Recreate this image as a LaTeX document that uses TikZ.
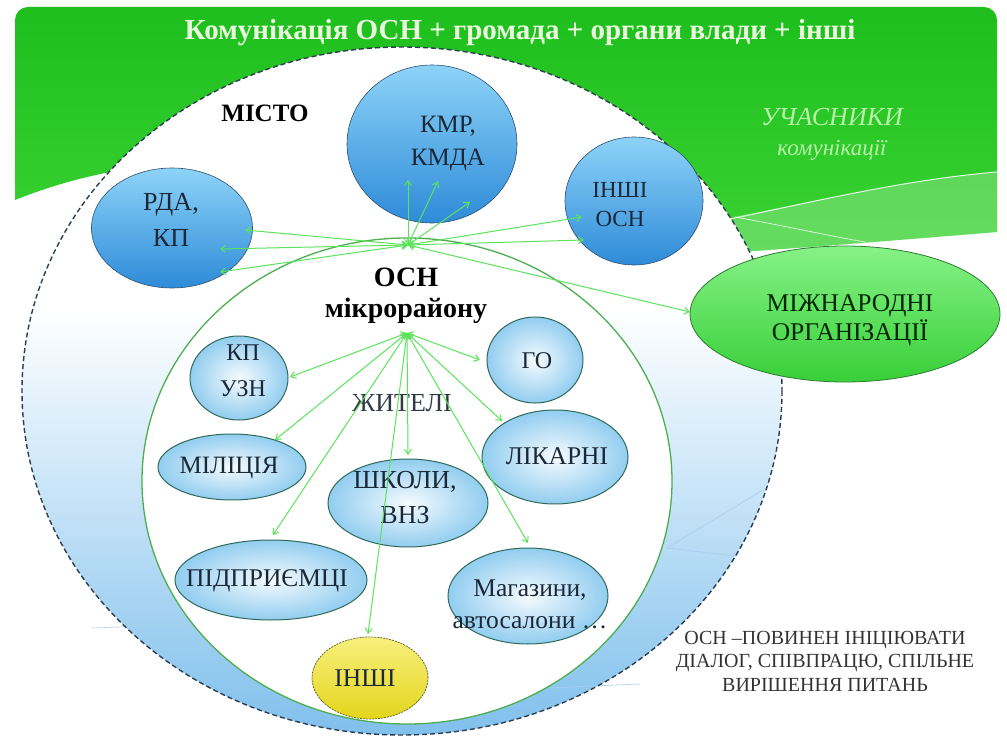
\documentclass[tikz,border=0pt]{standalone}
\usepackage{fontspec}
\setmainfont{Liberation Serif}
\usetikzlibrary{shapes.geometric, arrows.meta}

\definecolor{gtop}{HTML}{1DBE1D}
\definecolor{gbot}{HTML}{42D93A}
\definecolor{ringB}{HTML}{80C0EC}
\definecolor{ringM}{HTML}{D6EBFA}
\definecolor{btop}{HTML}{8DD3F8}
\definecolor{bbot}{HTML}{2E8BD8}
\definecolor{bbord}{HTML}{30506E}
\definecolor{sin}{HTML}{F5FBFE}
\definecolor{sout}{HTML}{92CDF0}
\definecolor{sbord}{HTML}{2F6A5A}
\definecolor{itop}{HTML}{86F286}
\definecolor{ibot}{HTML}{38CF38}
\definecolor{gbord}{HTML}{2E7D32}
\definecolor{ytop}{HTML}{F7F07E}
\definecolor{ybot}{HTML}{E4D51C}
\definecolor{ybord}{HTML}{6B6B2A}
\definecolor{txtc}{HTML}{1B2838}
\definecolor{lg}{HTML}{5BE35B}
\definecolor{innerg}{HTML}{4DAE50}
\definecolor{titlec}{HTML}{EAF9DD}
\definecolor{ucol}{HTML}{B9F2AA}
\definecolor{dashc}{HTML}{2C3E50}
\definecolor{ringl}{HTML}{A6D0EE}

\pgfdeclareverticalshading{ringshade}{100bp}{color(0bp)=(ringB); color(25bp)=(ringB); color(46bp)=(ringM); color(56bp)=(white); color(100bp)=(white)}

\begin{document}
\begin{tikzpicture}[x=1pt,y=-1pt,
  bigblue/.style={ellipse, draw=bbord, line width=0.6pt, top color=btop, bottom color=bbot, inner sep=0pt},
  smallblue/.style={ellipse, draw=sbord, line width=1pt, inner color=sin, outer color=sout, inner sep=0pt},
  greenell/.style={ellipse, draw=gbord, line width=0.8pt, top color=itop, bottom color=ibot, inner sep=0pt},
  yellowell/.style={ellipse, draw=ybord, line width=0.8pt, dash pattern=on 2pt off 1pt, top color=ytop, bottom color=ybot, inner sep=0pt},
  lab/.style={align=center, text=txtc, inner sep=0pt},
  link/.style={draw=lg, line width=1pt, >={Straight Barb[length=5pt,width=7pt]}, <->},
  ringline/.style={draw=ringl, line width=0.6pt}
]
\useasboundingbox (0,0) rectangle (1007,738);
\fill[white] (0,0) rectangle (1007,738);

% green background
\shade[top color=gtop, bottom color=gbot] (15,120) [rounded corners=13pt] -- (15,7) -- (997,7) -- (997,120) [sharp corners] -- (997,232)
  .. controls (900,240) and (800,248) .. (740,252) -- (400,320) -- (110,172)
  .. controls (70,180) and (40,190) .. (15,200) -- cycle;
\fill[white, opacity=0.22] (733,217) .. controls (820,200) and (920,178) .. (997,172) -- (997,232)
  .. controls (900,240) and (800,248) .. (740,252) -- cycle;
\draw[white, line width=1pt, opacity=0.85] (720,221) .. controls (800,205) and (900,180) .. (997,172);
\draw[white, line width=0.8pt, opacity=0.75] (735,217) .. controls (780,225) and (830,236) .. (865,242);

% big city ellipse
\shade[shading=ringshade] (402,391) ellipse [x radius=380, y radius=344];
\draw[ringline] (667,548) -- (763,490);
\draw[ringline] (667,548) -- (735,556);
\draw[ringline] (92,628) -- (196,624);
\draw[ringline] (548,688) -- (640,684);
\draw[dashc, line width=1.4pt, dash pattern=on 5pt off 3pt] (402,391) ellipse [x radius=380, y radius=344];

% inner micro-district ellipse
\filldraw[fill=white, draw=innerg, line width=1.3pt] (407,481) ellipse [x radius=265, y radius=243];

% title and side texts
\node[text=titlec, font=\fontsize{29}{32}\selectfont\bfseries] (title) at (520,33) {Комунікація ОСН + громада + органи влади + інші};
\node[text=ucol, font=\fontsize{26}{30}\selectfont\itshape] (uch) at (832,117) {УЧАСНИКИ};
\node[text=ucol, font=\fontsize{23}{28}\selectfont\itshape] (kom) at (832,150) {комунікації};
\node[text=black, font=\fontsize{25}{30}\selectfont\bfseries] (misto) at (265,113) {МІСТО};

% outer participants
\node[bigblue, minimum width=170, minimum height=158] (kmr) at (432,144) {};
\node[lab, font=\fontsize{25}{33}\selectfont] (kmrt) at (448,143) {КМР,\\КМДА};
\node[bigblue, minimum width=161, minimum height=120] (rda) at (172,228) {};
\node[lab, font=\fontsize{26}{36}\selectfont] (rdat) at (171,220) {РДА,\\КП};
\node[bigblue, minimum width=138, minimum height=128] (insh) at (634,201) {};
\node[lab, font=\fontsize{23}{29}\selectfont] (insht) at (620,205) {ІНШІ\\ОСН};
\node[greenell, minimum width=310, minimum height=136] (intl) at (845,314) {};
\node[lab, text=black!85!green, font=\fontsize{25.5}{29}\selectfont] (intlt) at (850,320) {МІЖНАРОДНІ\\ОРГАНІЗАЦІЇ};

% micro-district participants
\node[smallblue, minimum width=98, minimum height=84] (kpuzn) at (239,378) {};
\node[lab, font=\fontsize{24}{36}\selectfont] (kpuznt) at (243,371) {КП\\УЗН};
\node[smallblue, minimum width=96, minimum height=86] (go) at (535,360) {};
\node[lab, font=\fontsize{24}{28}\selectfont] (got) at (537,361) {ГО};
\node[smallblue, minimum width=148, minimum height=66] (mil) at (232,467) {};
\node[lab, font=\fontsize{25}{28}\selectfont] (milt) at (229,468) {МІЛІЦІЯ};
\node[smallblue, minimum width=160, minimum height=88] (shk) at (408,503) {};
\node[lab, font=\fontsize{26}{35}\selectfont] (shkt) at (405,498) {ШКОЛИ,\\ВНЗ};
\node[smallblue, minimum width=146, minimum height=94] (lik) at (555,457) {};
\node[lab, font=\fontsize{25.5}{28}\selectfont] (likt) at (557,456) {ЛІКАРНІ};
\node[smallblue, minimum width=192, minimum height=80] (pid) at (271,580) {};
\node[lab, font=\fontsize{25.5}{28}\selectfont] (pidt) at (267,581) {ПІДПРИЄМЦІ};
\node[smallblue, minimum width=160, minimum height=96] (mag) at (528,596) {};
\node[lab, font=\fontsize{25.5}{32}\selectfont] (magt) at (530,604) {Магазини,\\автосалони …};
\node[yellowell, minimum width=116, minimum height=82] (ysh) at (370,678) {};
\node[lab, font=\fontsize{25.5}{28}\selectfont] (ysht) at (365,678) {ІНШІ};

\node[lab, text=txtc!80!gray, font=\fontsize{26}{30}\selectfont] (zhit) at (402,403) {ЖИТЕЛІ};
\node[lab, text=black, font=\fontsize{28}{31}\selectfont\bfseries] (osnm) at (406,296) {ОСН\\мікрорайону};

\node[align=center, text=black!80, font=\fontsize{20}{23.5}\selectfont] (note) at (825,661) {ОСН –ПОВИНЕН ІНІЦІЮВАТИ\\ДІАЛОГ, СПІВПРАЦЮ, СПІЛЬНЕ\\ВИРІШЕННЯ ПИТАНЬ};

% hubs and end points
\coordinate (hubA) at (408,245);
\coordinate (hubB) at (407,333);
\coordinate (kmrA) at (408,180);
\coordinate (kmrB) at (438,181);
\coordinate (kmrC) at (470,202);
\coordinate (rdaA) at (245,230);
\coordinate (rdaB) at (220,249);
\coordinate (rdaC) at (220,272);
\coordinate (inshA) at (582,217);
\coordinate (inshB) at (584,240);
\coordinate (intlA) at (690,312);
\coordinate (kpE) at (290,377);
\coordinate (goE) at (480,360);
\coordinate (milE) at (275,440);
\coordinate (shkE) at (408,455);
\coordinate (likE) at (502,421);
\coordinate (pidE) at (273,535);
\coordinate (magE) at (528,543);
\coordinate (yshE) at (368,634);

\foreach \e in {kmrA,kmrB,kmrC,rdaA,rdaB,rdaC,inshA,inshB,intlA}
  \draw[link] (hubA) -- (\e);
\foreach \e in {kpE,goE,milE,shkE,likE,pidE,magE,yshE}
  \draw[link] (hubB) -- (\e);
\end{tikzpicture}
\end{document}
